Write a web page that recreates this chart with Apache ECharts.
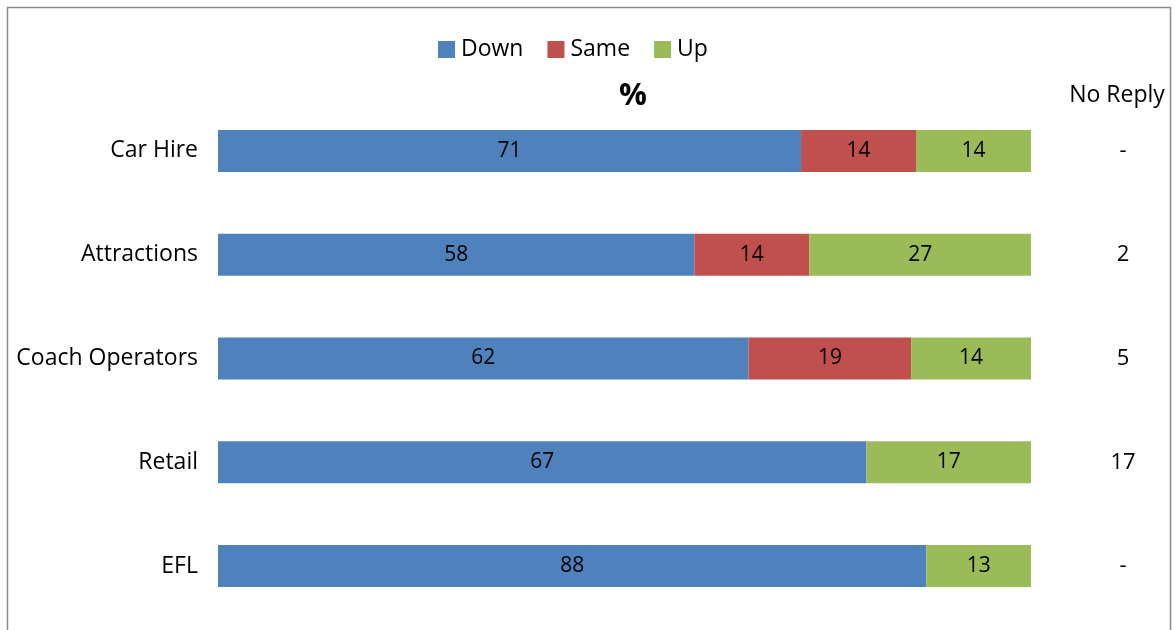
<!DOCTYPE html>
<html><head><meta charset="utf-8">
<script src="https://cdn.jsdelivr.net/npm/echarts@6/dist/echarts.min.js"></script>
<style>html,body{margin:0;padding:0;background:#fff}#c{width:1175px;height:630px}</style>
</head><body><div id="c"></div>
<script>
const categories = ['Car Hire','Attractions','Coach Operators','Retail','EFL'];
const down = [71,58,62,67,88];
const same = [14,14,19,0,0];
const up = [14,27,14,17,13];
const noReply = ['-','2','5','17','-'];
const seriesNames = ['Down','Same','Up'];
const colors = ['#4F81BD','#C0504D','#9BBB59'];

const raw = [down, same, up];
const totals = categories.map((_, i) => down[i] + same[i] + up[i]);
const font = "'Open Sans', 'Noto Sans', sans-serif";

const chart = echarts.init(document.getElementById('c'));
chart.setOption({
  animation: false,
  graphic: [{type:'rect', shape:{x:7.5,y:7.5,width:1163,height:640}, style:{fill:'none', stroke:'#8c8c8c', lineWidth:1.5}}],
  title: {text:'%', left:614, top:76, textStyle:{fontFamily:font, fontSize:31, fontWeight:'bold', color:'#000'}},
  legend: {top:33, left:433, itemWidth:17, itemHeight:17, itemGap:24, icon:'rect',
    textStyle:{fontFamily:font, fontSize:23, color:'#000', padding:[0,0,0,1]}, data: seriesNames},
  grid: {left:218, right:144, top:99, bottom:12, containLabel:false, outerBoundsMode:'none'},
  xAxis: {type:'value', min:0, max:100, show:false},
  yAxis: [
    {type:'category', data:categories, inverse:true, axisLine:{show:false}, axisTick:{show:false},
     axisLabel:{fontFamily:font, fontSize:23, color:'#000', margin:20}},
    {type:'category', data:noReply, inverse:true, position:'right', axisLine:{show:false}, axisTick:{show:false},
     name:'No Reply', nameLocation:'start', nameGap:-8,
     nameTextStyle:{fontFamily:font, fontSize:23, color:'#000', align:'center', padding:[0,0,0,172]},
     axisLabel:{fontFamily:font, fontSize:22, color:'#000', margin:92, align:'center'}}
  ],
  series: raw.map((arr, k) => ({
    name: seriesNames[k], type:'bar', stack:'all', barWidth:42, yAxisIndex:0,
    itemStyle:{color:colors[k]},
    data: arr.map((v, i) => ({value: v / totals[i] * 100, raw: v})),
    label:{show:true, position:'inside', fontFamily:font, fontSize:21, color:'#000',
      formatter: p => p.data.raw ? String(p.data.raw) : ''}
  }))
});
</script></body></html>
